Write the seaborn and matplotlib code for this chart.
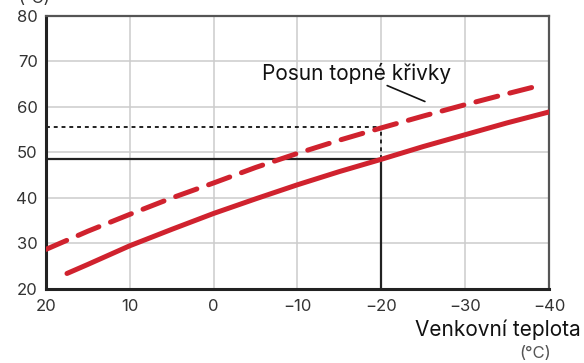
import matplotlib
matplotlib.use("Agg")
import matplotlib.pyplot as plt
import seaborn as sns
import pandas as pd

# ---- data ----
solid_x = [17.5, 15, 10, 5, 0, -5, -10, -15, -20, -25, -30, -35, -40]
solid_y = [23.4, 25.4, 29.5, 33.1, 36.6, 39.8, 42.9, 45.8, 48.5, 51.3, 53.9, 56.5, 58.9]
dashed_x = [20, 15, 10, 5, 0, -5, -10, -15, -20, -25, -30, -35, -38]
dashed_y = [28.7, 32.7, 36.4, 40.0, 43.3, 46.7, 49.8, 52.7, 55.4, 58.0, 60.5, 62.9, 64.3]
x_ticks = [20, 10, 0, -10, -20, -30, -40]
x_tick_labels = ["20", "10", "0", "\u221210", "\u221220", "\u221230", "\u221240"]
y_ticks = [20, 30, 40, 50, 60, 70, 80]
ref_x = -20
ref_solid_y = 48.5
ref_dashed_y = 55.5
annotation_text = "Posun topné křivky"
x_label = "Venkovní teplota"
unit_label = "(°C)"

sns.set_theme(style="white")
plt.rcParams["font.family"] = ["Inter", "DejaVu Sans"]

fig = plt.figure(figsize=(5.84, 3.63), dpi=100)
ax = fig.add_axes([0.0788, 0.204, 0.8612, 0.752])

red = "#d0222e"
df_solid = pd.DataFrame({"x": solid_x, "y": solid_y})
df_dash = pd.DataFrame({"x": dashed_x, "y": dashed_y})

# reference lines
ax.plot([20, ref_x], [ref_solid_y, ref_solid_y], color="#222222", lw=1.6, zorder=3)
ax.plot([ref_x, ref_x], [20, ref_solid_y], color="#222222", lw=1.6, zorder=3)
ax.plot([20, ref_x], [ref_dashed_y, ref_dashed_y], color="#222222", lw=1.4,
        linestyle=(0, (2, 2)), zorder=3)
ax.plot([ref_x, ref_x], [ref_solid_y, ref_dashed_y], color="#222222", lw=1.4,
        linestyle=(0, (2, 2)), zorder=3)

sns.lineplot(data=df_solid, x="x", y="y", ax=ax, color=red, lw=3.6,
             solid_capstyle="round", zorder=4, sort=False)
sns.lineplot(data=df_dash, x="x", y="y", ax=ax, color=red, lw=3.6,
             zorder=4, sort=False)
ax.lines[-1].set_linestyle((0, (4.5, 2.5)))
ax.lines[-1].set_dash_capstyle("round")

ax.set_xlim(20, -40)
ax.set_ylim(20, 80)
ax.set_xticks(x_ticks)
ax.set_xticklabels(x_tick_labels)
ax.set_yticks(y_ticks)
ax.set_xlabel("")
ax.set_ylabel("")
ax.grid(True, color="#cccccc", lw=1.1, zorder=0)
ax.set_axisbelow(True)

for s in ["left", "bottom"]:
    ax.spines[s].set_color("#222222")
    ax.spines[s].set_linewidth(2.2)
for s in ["top", "right"]:
    ax.spines[s].set_color("#555555")
    ax.spines[s].set_linewidth(1.6)

ax.tick_params(axis="both", which="major", length=4, width=1, color="#999999",
               labelsize=12, labelcolor="#333333", direction="out", pad=2)
ax.tick_params(axis="x", pad=3)

ax.text(-5.8, 67.4, annotation_text, fontsize=15, color="#111111",
        ha="left", va="center")
ax.plot([-20.7, -25.2], [64.7, 61.2], color="#111111", lw=1.2)

fig.text(0.995, 0.091, x_label, fontsize=15, color="#111111", ha="right", va="center")
fig.text(0.916, 0.025, unit_label, fontsize=12, color="#555555", ha="center", va="center")
fig.text(0.058, 1.003, unit_label, fontsize=12, color="#333333", ha="center", va="center")

fig.savefig("out.png", dpi=100)
